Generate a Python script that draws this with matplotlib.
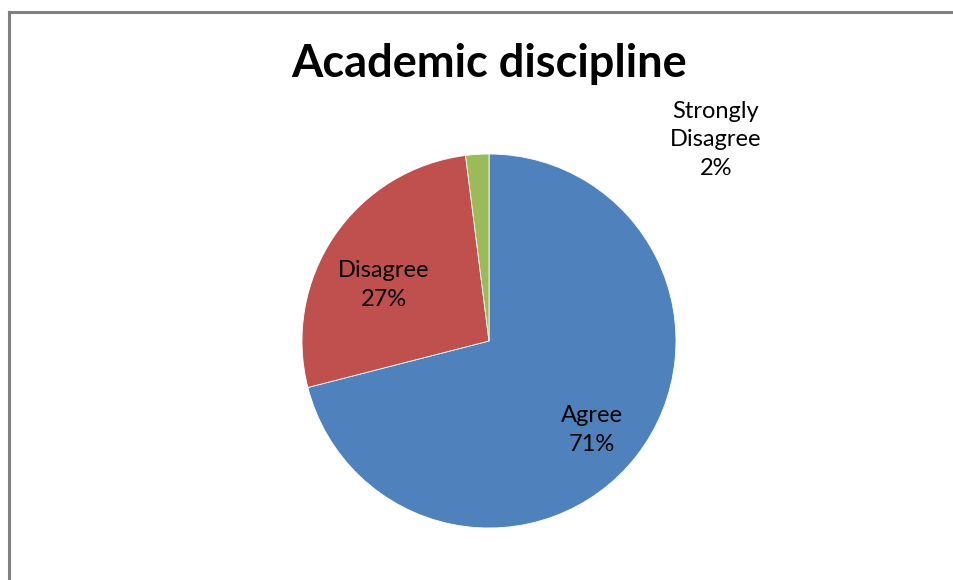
import matplotlib.pyplot as plt
from matplotlib.lines import Line2D

labels = ['Agree', 'Disagree', 'Strongly\nDisagree']
values = [71, 27, 2]
colors = ['#4F81BD', '#C0504D', '#9BBB59']

plt.rcParams['font.family'] = ['Lato', 'DejaVu Sans']

fig = plt.figure(figsize=(9.54, 5.8), dpi=100)
ax = fig.add_axes([0, 0, 1, 1])

wedges, _ = ax.pie(values, colors=colors, startangle=90, counterclock=False,
                   center=(489, 239), radius=187, frame=True,
                   wedgeprops=dict(edgecolor='white', linewidth=0.6))
ax.set_xlim(0, 954)
ax.set_ylim(0, 580)
ax.axis('off')

# label positions (Excel style, last one dragged outside)
label_pos = [(592, 150), (384, 295), (716, 440)]
for lab, v, (x, y) in zip(labels, values, label_pos):
    ax.text(x, y, f"{lab}\n{v}%", ha='center', va='center', fontsize=17,
            color='black', linespacing=1.45)

fig.text(489 / 954, 1 - 64 / 580, 'Academic discipline', ha='center', va='center',
         fontsize=32.5, fontweight='bold')

# chart area border (left and top visible)
fig.add_artist(Line2D([9 / 954, 9 / 954], [0, 1 - 12 / 580], transform=fig.transFigure,
                      color='#808080', lw=2.2))
fig.add_artist(Line2D([9 / 954, 1], [1 - 12 / 580, 1 - 12 / 580], transform=fig.transFigure,
                      color='#808080', lw=2.2))

plt.savefig('out.png', dpi=100)
